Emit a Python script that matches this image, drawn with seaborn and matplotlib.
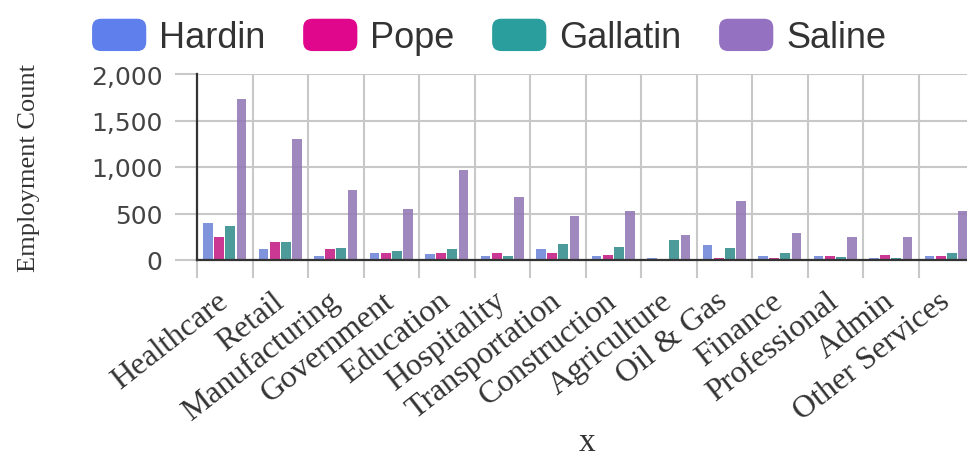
import numpy as np
import pandas as pd
import matplotlib
matplotlib.use("Agg")
import matplotlib.pyplot as plt
from matplotlib.patches import Patch, FancyBboxPatch
from matplotlib.legend_handler import HandlerPatch
from matplotlib.ticker import FuncFormatter
import seaborn as sns

categories = ["Healthcare", "Retail", "Manufacturing", "Government", "Education",
              "Hospitality", "Transportation", "Construction", "Agriculture",
              "Oil & Gas", "Finance", "Professional", "Admin", "Other Services"]
series = ["Hardin", "Pope", "Gallatin", "Saline"]
hardin = [400, 120, 47, 72, 65, 40, 120, 47, 22, 160, 47, 40, 18, 40]
pope = [245, 198, 120, 76, 72, 76, 72, 58, 5, 22, 22, 47, 54, 47]
gallatin = [370, 190, 126, 94, 120, 47, 170, 145, 215, 126, 76, 32, 22, 72]
saline = [1735, 1305, 748, 550, 965, 676, 471, 525, 273, 630, 291, 252, 252, 530]
colors = ["#5f7fec", "#e0078d", "#2a9d9d", "#9471c1"]

values = {"Hardin": hardin, "Pope": pope, "Gallatin": gallatin, "Saline": saline}
df = pd.DataFrame([
    {"x": c, "county": s, "count": values[s][i]}
    for s in series for i, c in enumerate(categories)
])

W, H = 967, 460
fig = plt.figure(figsize=(W / 100, H / 100), dpi=100)
ax = fig.add_axes([197 / W, (H - 261) / H, 777 / W, 186 / H])

sns.barplot(data=df, x="x", y="count", hue="county", order=categories,
            hue_order=series, palette=colors, width=0.8, gap=0.12,
            alpha=0.9, legend=False, ax=ax, errorbar=None)

grid_c = "#c8c8c8"
ax.set_xlim(-0.5, len(categories) - 0.5)
ax.set_ylim(0, 2000)
ax.set_yticks([0, 500, 1000, 1500, 2000])
ax.yaxis.set_major_formatter(FuncFormatter(lambda v, p: f"{int(v):,}"))
ax.set_xticks(np.arange(-0.5, len(categories), 1.0))
ax.set_xticklabels([])
ax.set_xticks(np.arange(len(categories)), minor=True)
ax.set_xticklabels(categories, minor=True, rotation=38, ha="right", va="center",
                   rotation_mode="anchor", fontsize=23, family="Liberation Serif",
                   color="#333333")
ax.tick_params(axis="x", which="major", length=13, width=1.5, color=grid_c)
ax.tick_params(axis="x", which="minor", length=0, pad=27)
ax.tick_params(axis="y", length=16, width=1.5, color=grid_c, pad=9,
               labelsize=18, labelcolor="#444444")
ax.set_axisbelow(True)
ax.grid(True, which="major", color=grid_c, linewidth=1.5)

for s in ["top", "right"]:
    ax.spines[s].set_visible(False)
for s in ["left", "bottom"]:
    ax.spines[s].set_color("#333333")
    ax.spines[s].set_linewidth(1.6)

ax.set_ylabel("Employment Count", family="Liberation Serif", fontsize=19, color="#333333")
ax.yaxis.set_label_coords((40 - 197) / 777, 0.5)
ax.set_xlabel("x", family="Liberation Serif", fontsize=24, color="#333333")
ax.xaxis.set_label_coords((587 - 197) / 777, (261 - 428) / 186)


class RoundHandler(HandlerPatch):
    def create_artists(self, legend, orig_handle, xdescent, ydescent, width,
                       height, fontsize, trans):
        r = 0.28 * height
        p = FancyBboxPatch((-xdescent + r, -ydescent + r), width - 2 * r,
                           height - 2 * r, boxstyle=f"round,pad={r}",
                           facecolor=orig_handle.get_facecolor(),
                           edgecolor="none", transform=trans)
        return [p]


handles = [Patch(facecolor=c, label=s) for s, c in zip(series, colors)]
leg = fig.legend(handles=handles, loc="center", bbox_to_anchor=(489 / W, 1 - 38 / H),
                 ncol=4, frameon=False, handler_map={Patch: RoundHandler()},
                 prop={"family": "Liberation Sans", "size": 26},
                 handlelength=1.5, handleheight=1.0, handletextpad=0.35,
                 columnspacing=1.05, labelcolor="#333333")

fig.savefig("out.png", dpi=100)
